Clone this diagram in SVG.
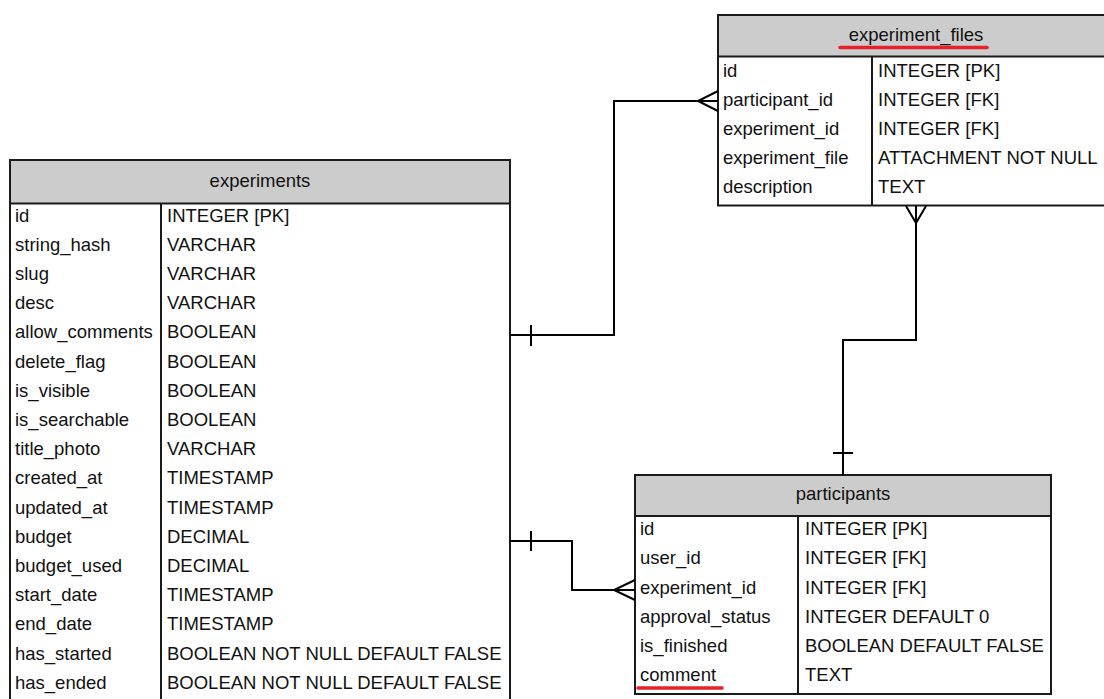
<svg xmlns="http://www.w3.org/2000/svg" width="1104" height="699" viewBox="0 0 1104 699">
<style>
.bg{fill:#ffffff}
.box{fill:#ffffff;stroke:#1a1a1a;stroke-width:2}
.hdr{fill:#cccccc;stroke:#1a1a1a;stroke-width:2}
.div{stroke:#1a1a1a;stroke-width:2}
text{font-family:"Liberation Sans",Arial,sans-serif;font-size:18.5px;fill:#111111}
.c{text-anchor:middle}
.ul{stroke:#e8202a;stroke-width:3.5;stroke-linecap:round;fill:none}
.conn{fill:none;stroke:#000000;stroke-width:2}
</style>
<rect class="bg" x="0" y="0" width="1104" height="699"/>

<g id="experiments">
<rect class="box" x="10" y="160" width="500" height="545"/>
<rect class="hdr" x="10" y="160" width="500" height="43.5"/>
<line class="div" x1="161" y1="203.5" x2="161" y2="705"/>
<text class="c" x="260" y="187">experiments</text>
<g>
<text x="15" y="221.5">id</text><text x="167" y="221.5">INTEGER [PK]</text>
<text x="15" y="250.7">string_hash</text><text x="167" y="250.7">VARCHAR</text>
<text x="15" y="279.9">slug</text><text x="167" y="279.9">VARCHAR</text>
<text x="15" y="309.1">desc</text><text x="167" y="309.1">VARCHAR</text>
<text x="15" y="338.3">allow_comments</text><text x="167" y="338.3">BOOLEAN</text>
<text x="15" y="367.5">delete_flag</text><text x="167" y="367.5">BOOLEAN</text>
<text x="15" y="396.7">is_visible</text><text x="167" y="396.7">BOOLEAN</text>
<text x="15" y="425.9">is_searchable</text><text x="167" y="425.9">BOOLEAN</text>
<text x="15" y="455.1">title_photo</text><text x="167" y="455.1">VARCHAR</text>
<text x="15" y="484.3">created_at</text><text x="167" y="484.3">TIMESTAMP</text>
<text x="15" y="513.5">updated_at</text><text x="167" y="513.5">TIMESTAMP</text>
<text x="15" y="542.7">budget</text><text x="167" y="542.7">DECIMAL</text>
<text x="15" y="571.9">budget_used</text><text x="167" y="571.9">DECIMAL</text>
<text x="15" y="601.1">start_date</text><text x="167" y="601.1">TIMESTAMP</text>
<text x="15" y="630.3">end_date</text><text x="167" y="630.3">TIMESTAMP</text>
<text x="15" y="659.5">has_started</text><text x="167" y="659.5">BOOLEAN NOT NULL DEFAULT FALSE</text>
<text x="15" y="688.7">has_ended</text><text x="167" y="688.7">BOOLEAN NOT NULL DEFAULT FALSE</text>
</g>
</g>

<g id="experiment_files">
<rect class="box" x="718" y="15" width="400" height="190.5"/>
<rect class="hdr" x="718" y="15" width="400" height="41.5"/>
<line class="div" x1="872" y1="56.5" x2="872" y2="205.5"/>
<text class="c" x="916" y="41">experiment_files</text>
<line class="ul" x1="840" y1="47.5" x2="987" y2="47.5"/>
<text x="723" y="76.5">id</text><text x="878" y="76.5">INTEGER [PK]</text>
<text x="723" y="105.5">participant_id</text><text x="878" y="105.5">INTEGER [FK]</text>
<text x="723" y="134.5">experiment_id</text><text x="878" y="134.5">INTEGER [FK]</text>
<text x="723" y="163.5">experiment_file</text><text x="878" y="163.5">ATTACHMENT NOT NULL</text>
<text x="723" y="192.5">description</text><text x="878" y="192.5">TEXT</text>
</g>

<g id="participants">
<rect class="box" x="635" y="475" width="416" height="219"/>
<rect class="hdr" x="635" y="475" width="416" height="41"/>
<line class="div" x1="798" y1="516" x2="798" y2="694"/>
<text class="c" x="843" y="500">participants</text>
<text x="640" y="534.5">id</text><text x="805" y="534.5">INTEGER [PK]</text>
<text x="640" y="564">user_id</text><text x="805" y="564">INTEGER [FK]</text>
<text x="640" y="593.5">experiment_id</text><text x="805" y="593.5">INTEGER [FK]</text>
<text x="640" y="622.5">approval_status</text><text x="805" y="622.5">INTEGER DEFAULT 0</text>
<text x="640" y="651.5">is_finished</text><text x="805" y="651.5">BOOLEAN DEFAULT FALSE</text>
<text x="640" y="680.5">comment</text><text x="805" y="680.5">TEXT</text>
<line class="ul" x1="638" y1="688" x2="722" y2="688"/>
</g>

<g id="connectors">
<path class="conn" d="M510,335 H614 V101 H718"/>
<path class="conn" d="M531,325 V346"/>
<path class="conn" d="M718,91 L698,101 L718,111"/>

<path class="conn" d="M916,206 V340 H843 V475"/>
<path class="conn" d="M906,206 L916,223 L926,206"/>
<path class="conn" d="M833,453 H853"/>

<path class="conn" d="M510,541 H572 V590 H635"/>
<path class="conn" d="M531,531 V551"/>
<path class="conn" d="M635,580 L614,590 L635,600"/>
</g>
</svg>
